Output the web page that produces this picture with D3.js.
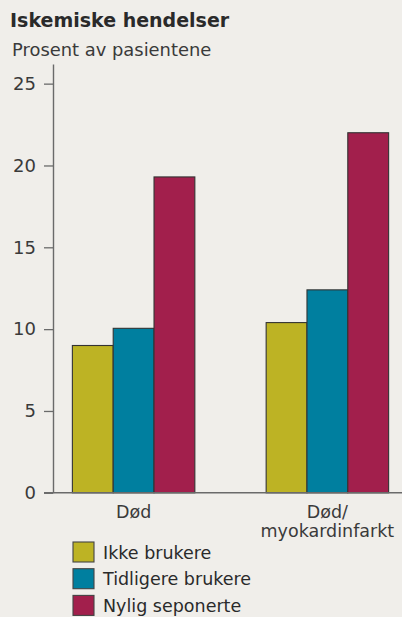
<!DOCTYPE html>
<html>
<head>
<meta charset="utf-8">
<script src="https://cdnjs.cloudflare.com/ajax/libs/d3/7.8.5/d3.min.js"></script>
<style>
body { margin: 0; background: #f0eeea; }
svg { display: block; font-family: "DejaVu Sans", sans-serif; }
</style>
</head>
<body>
<div id="chart"></div>
<script>

// data
var categories = ["Død", "Død/\nmyokardinfarkt"];
var seriesNames = ["Ikke brukere", "Tidligere brukere", "Nylig seponerte"];
var ikkeBrukere = [9.0, 10.4];
var tidligereBrukere = [10.05, 12.4];
var nyligSeponerte = [19.3, 22.0];
var yTicks = [0, 5, 10, 15, 20, 25];
var colors = ["#bdb324", "#007f9f", "#a21f4c"];

var values = [ikkeBrukere, tidligereBrukere, nyligSeponerte];

var w = 402, h = 617;

var svg = d3.select("#chart")
    .append("svg")
    .attr("width", w)
    .attr("height", h);

svg.append("rect").attr("width", w).attr("height", h).attr("fill", "#f0eeea");

// titles
svg.append("text")
    .attr("x", 10).attr("y", 26.5)
    .attr("font-size", 19).attr("font-weight", 600)
    .attr("fill", "#2a2a2a")
    .text("Iskemiske hendelser");

svg.append("text")
    .attr("x", 12).attr("y", 56)
    .attr("font-size", 17.9)
    .attr("fill", "#3a3a3a")
    .text("Prosent av pasientene");

var y = d3.scaleLinear().domain([0, 26.2]).range([492.8, 64]);

var x0 = d3.scaleBand()
    .domain(categories)
    .range([53, 408])
    .paddingInner(0.368)
    .paddingOuter(0.1);

var x1 = d3.scaleBand()
    .domain(seriesNames)
    .range([0, x0.bandwidth()]);

// bars
var groups = svg.selectAll("g.grp")
    .data(categories)
    .enter().append("g")
    .attr("class", "grp")
    .attr("transform", function(d) { return "translate(" + x0(d) + ",0)"; });

groups.selectAll("rect")
    .data(function(d, i) {
        return seriesNames.map(function(s, j) { return { s: s, v: values[j][i], c: colors[j] }; });
    })
    .enter().append("rect")
    .attr("x", function(d) { return x1(d.s); })
    .attr("y", function(d) { return y(d.v); })
    .attr("width", x1.bandwidth())
    .attr("height", function(d) { return y(0) - y(d.v); })
    .attr("fill", function(d) { return d.c; })
    .attr("stroke", "#333")
    .attr("stroke-width", 1.1);

// y axis
var yAxis = svg.append("g")
    .attr("transform", "translate(53,0)")
    .call(d3.axisLeft(y).tickValues(yTicks).tickSize(9).tickSizeOuter(0).tickPadding(8));

yAxis.select(".domain").attr("stroke", "#6a6a6a").attr("stroke-width", 1.4);
yAxis.selectAll(".tick line").attr("stroke", "#6a6a6a").attr("stroke-width", 1.3);
yAxis.selectAll(".tick text")
    .attr("font-size", 18)
    .attr("font-family", "DejaVu Sans, sans-serif")
    .attr("fill", "#3a3a3a");

// x baseline
svg.append("line")
    .attr("x1", 44).attr("x2", w)
    .attr("y1", y(0)).attr("y2", y(0))
    .attr("stroke", "#6a6a6a").attr("stroke-width", 1.4);

// category labels
svg.selectAll("text.cat")
    .data(categories)
    .enter().append("text")
    .attr("class", "cat")
    .attr("text-anchor", "middle")
    .attr("font-size", 17.5)
    .attr("fill", "#3a3a3a")
    .each(function(d) {
        var t = d3.select(this);
        d.split("\n").forEach(function(line, i) {
            t.append("tspan")
                .attr("x", x0(d) + x0.bandwidth() / 2)
                .attr("y", 517.5 + i * 19.5)
                .text(line);
        });
    });

// legend
var legend = svg.selectAll("g.leg")
    .data(seriesNames)
    .enter().append("g")
    .attr("class", "leg")
    .attr("transform", function(d, i) { return "translate(73," + (542 + i * 26.7) + ")"; });

legend.append("rect")
    .attr("width", 21).attr("height", 20)
    .attr("fill", function(d, i) { return colors[i]; })
    .attr("stroke", "#444").attr("stroke-width", 1.1);

legend.append("text")
    .attr("x", 30).attr("y", 16.5)
    .attr("font-size", 17.5)
    .attr("fill", "#2a2a2a")
    .text(function(d) { return d; });

</script>
</body>
</html>
